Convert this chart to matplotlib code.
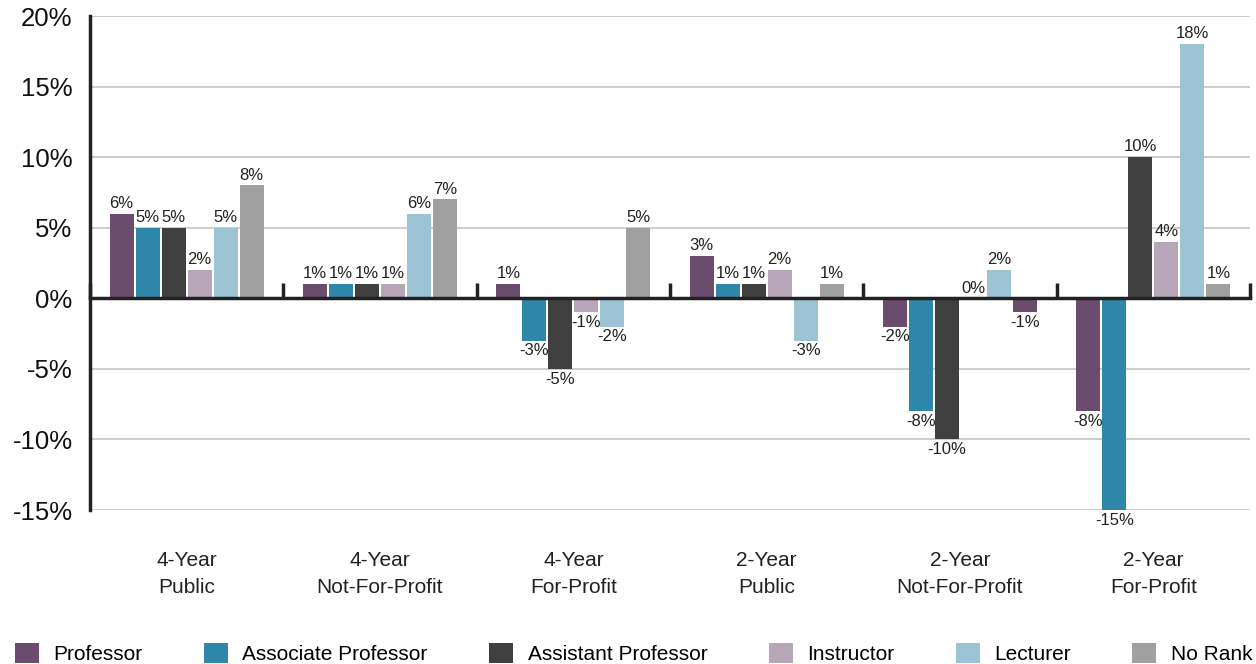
import numpy as np
import matplotlib
matplotlib.use("Agg")
import matplotlib.pyplot as plt
from matplotlib.patches import Patch
from matplotlib.transforms import blended_transform_factory

plt.rcParams['font.family'] = ['Liberation Sans', 'DejaVu Sans']

#
# Data
#
groups = ['4-Year\nPublic', '4-Year\nNot-For-Profit', '4-Year\nFor-Profit',
          '2-Year\nPublic', '2-Year\nNot-For-Profit', '2-Year\nFor-Profit']
ranks = ['Professor', 'Associate Professor', 'Assistant Professor',
         'Instructor', 'Lecturer', 'No Rank']
professor = [6, 1, 1, 3, -2, -8]
associate = [5, 1, -3, 1, -8, -15]
assistant = [5, 1, -5, 1, -10, 10]
instructor = [2, 1, -1, 2, 0, 4]
lecturer = [5, 6, -2, -3, 2, 18]
no_rank = [8, 7, 5, 1, -1, 1]
series = [professor, associate, assistant, instructor, lecturer, no_rank]

colors = ['#6b4c6e', '#2e87a8', '#404040', '#b6a6b8', '#9cc4d5', '#a0a0a0']

#
# Figure
#
fig = plt.figure(figsize=(12.56, 6.64), dpi=100)
ax = fig.add_axes([90/1256, 1-510/664, 1160/1256, 494/664])

x = np.arange(len(groups))
pitch = 0.1345
width = 0.124
for j, vals in enumerate(series):
    bars = ax.bar(x + 0.5 + (j-2.5)*pitch, vals, width, color=colors[j], zorder=3)
    ax.bar_label(bars, labels=['%d%%' % v for v in vals], padding=2,
                 fontsize=12, color='#222222')
# the -1% no-rank bar in 2-Year Not-For-Profit is drawn in the professor colour in the original
ax.containers[5].patches[4].set_facecolor(colors[0])

ax.set_xlim(0, 6)
ax.set_ylim(-15, 20)
ax.set_yticks(np.arange(-15, 21, 5))
ax.set_yticklabels(['%d%%' % v for v in np.arange(-15, 21, 5)], fontsize=18.5, color='#111111')
ax.tick_params(axis='y', length=0, pad=12.5)
ax.grid(axis='y', color='#c4c4c4', linewidth=1.2, zorder=0)

for s in ['top', 'right']:
    ax.spines[s].set_visible(False)
ax.spines['left'].set_linewidth(2.5)
ax.spines['left'].set_color('#222222')
ax.spines['bottom'].set_position(('data', 0))
ax.spines['bottom'].set_linewidth(2.5)
ax.spines['bottom'].set_color('#222222')
ax.spines['bottom'].set_zorder(4)
ax.set_xticks(np.arange(0, 7))
ax.set_xticklabels([])
ax.tick_params(axis='x', direction='in', length=11, width=2.5, color='#222222')

trans = blended_transform_factory(ax.transData, ax.transAxes)
for i, g in enumerate(groups):
    ax.text(i + 0.5, -0.083, g, transform=trans, ha='center', va='top',
            fontsize=15, color='#222222', linespacing=1.55)

handles = [Patch(facecolor=c, edgecolor='none') for c in colors]
fig.legend(handles, ranks, loc='lower left', bbox_to_anchor=(0.0, -0.022), ncol=6,
           frameon=False, fontsize=15, handlelength=1.15, handleheight=1.15,
           handletextpad=0.7, columnspacing=2.95, borderaxespad=0.3)

fig.savefig('out.png', dpi=100)
